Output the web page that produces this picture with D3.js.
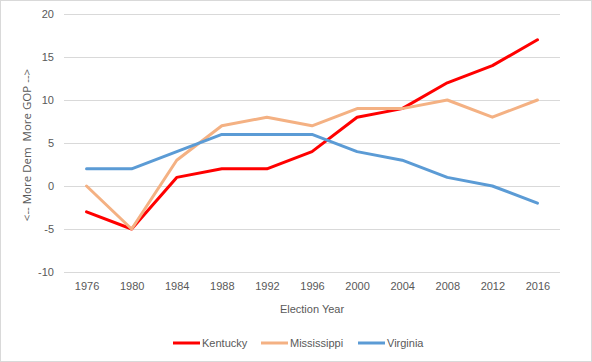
<!DOCTYPE html>
<html>
<head>
<meta charset="utf-8">
<script src="https://cdn.jsdelivr.net/npm/d3@7"></script>
<style>
  body { margin: 0; background: #fff; }
  text { font-family: "Liberation Sans", Arial, sans-serif; fill: #595959; }
  .grid line { stroke: #d9d9d9; }
  .line { fill: none; stroke-width: 3; stroke-linejoin: round; stroke-linecap: round; }
</style>
</head>
<body>
<script>
// Data
var years = ["1976", "1980", "1984", "1988", "1992", "1996", "2000", "2004", "2008", "2012", "2016"];
var kentucky    = [-3, -5, 1, 2, 2, 4, 8, 9, 12, 14, 17];
var mississippi = [0, -5, 3, 7, 8, 7, 9, 9, 10, 8, 10];
var virginia    = [2, 2, 4, 6, 6, 6, 4, 3, 1, 0, -2];
var yTicks = [-10, -5, 0, 5, 10, 15, 20];

var series = [
  { name: "Kentucky", values: kentucky, color: "#ff0000" },
  { name: "Mississippi", values: mississippi, color: "#f4b183" },
  { name: "Virginia", values: virginia, color: "#5b9bd5" }
];

var W = 592, H = 362;
var margin = { top: 14, right: 32, bottom: 90, left: 64 },
    width = W - margin.left - margin.right,
    height = H - margin.top - margin.bottom;

var svg = d3.select("body").append("svg")
    .attr("width", W)
    .attr("height", H);

// chart border
svg.append("rect")
    .attr("x", 0.5).attr("y", 0.5)
    .attr("width", W - 1).attr("height", H - 1)
    .attr("fill", "#fff")
    .attr("stroke", "#d9d9d9");

var g = svg.append("g")
    .attr("transform", "translate(" + margin.left + "," + margin.top + ")");

var x = d3.scalePoint().domain(years).range([0, width]).padding(0.5);
var y = d3.scaleLinear().domain([-10, 20]).range([height, 0]);

// gridlines
g.append("g")
    .attr("class", "grid")
    .selectAll("line")
    .data(yTicks)
    .enter().append("line")
    .attr("x1", 0).attr("x2", width)
    .attr("y1", function (d) { return Math.round(y(d)) + 0.5; })
    .attr("y2", function (d) { return Math.round(y(d)) + 0.5; });

// y axis labels (plain hyphen for negatives)
var yAxis = d3.axisLeft(y).tickValues(yTicks).tickSize(0).tickPadding(10)
    .tickFormat(function (d) { return String(d); });
g.append("g")
    .call(yAxis)
    .call(function (a) { a.select(".domain").remove(); })
    .selectAll("text")
    .style("font-size", "11px")
    .attr("fill", "#595959");

// x axis labels
var xAxis = d3.axisBottom(x).tickSize(0).tickPadding(10);
g.append("g")
    .attr("transform", "translate(0," + height + ")")
    .call(xAxis)
    .call(function (a) { a.select(".domain").remove(); })
    .selectAll("text")
    .style("font-size", "11px")
    .attr("fill", "#595959");

// axis titles
svg.append("text")
    .attr("x", margin.left + width / 2)
    .attr("y", 313)
    .attr("text-anchor", "middle")
    .style("font-size", "11px")
    .text("Election Year");

svg.append("text")
    .attr("transform", "translate(31," + (margin.top + height / 2 + 2) + ") rotate(-90)")
    .attr("text-anchor", "middle")
    .style("font-family", "'Open Sans', sans-serif")
    .style("font-size", "11.5px")
    .style("white-space", "pre")
    .text("<-- More Dem  More GOP -->");

// lines
var line = d3.line()
    .x(function (d, i) { return x(years[i]); })
    .y(function (d) { return y(d); });

g.selectAll(".line")
    .data(series)
    .enter().append("path")
    .attr("class", "line")
    .attr("d", function (d) { return line(d.values); })
    .style("stroke", function (d) { return d.color; });

// legend
var legendX = [173, 261, 358];
var legend = svg.selectAll(".legend")
    .data(series)
    .enter().append("g")
    .attr("transform", function (d, i) { return "translate(" + legendX[i] + ",343)"; });

legend.append("line")
    .attr("x1", 0).attr("x2", 27)
    .attr("stroke", function (d) { return d.color; })
    .attr("stroke-width", 3);

legend.append("text")
    .attr("x", 29)
    .attr("dy", "0.35em")
    .style("font-size", "11px")
    .text(function (d) { return d.name; });
</script>
</body>
</html>
